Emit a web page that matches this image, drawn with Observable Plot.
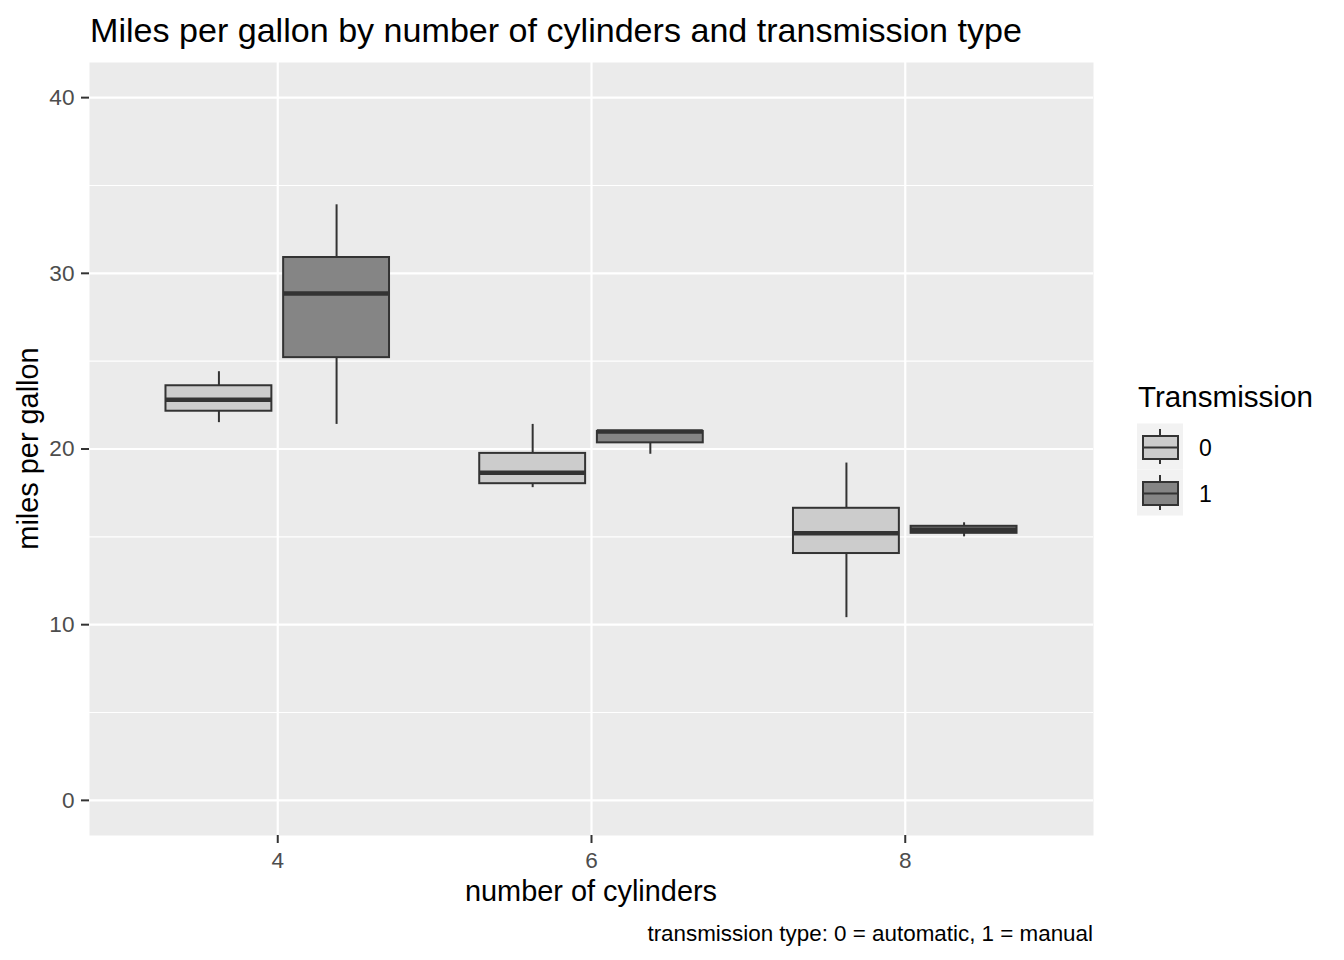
<!DOCTYPE html>
<html><head><meta charset="utf-8">
<script src="https://cdn.jsdelivr.net/npm/d3@7"></script>
<script src="https://cdn.jsdelivr.net/npm/@observablehq/plot@0.6"></script>
<style>
body{margin:0;background:#fff;font-family:"Liberation Sans",Arial,sans-serif;}
#wrap{position:relative;width:1344px;height:960px;overflow:hidden;}
#wrap svg{position:absolute;left:0;top:0;}
</style></head><body><div id="wrap"></div>
<script>
// mtcars: mpg by cylinders (x) and transmission (0 = automatic, 1 = manual)
const cylinders    = [4, 4, 6, 6, 8, 8];
const transmission = ["0", "1", "0", "1", "0", "1"];
const mpgMin    = [21.5, 21.4, 17.8,   19.7,  10.4,   15.0];
const mpgQ1     = [22.15, 25.2, 18.025, 20.35, 14.05,  15.2];
const mpgMedian = [22.8, 28.85, 18.65,  21.0,  15.2,   15.4];
const mpgQ3     = [23.6, 30.9, 19.75,  21.0,  16.625, 15.6];
const mpgMax    = [24.4, 33.9, 21.4,   21.0,  19.2,   15.8];
const yTicks = [0, 10, 20, 30, 40];
const yMinor = [5, 15, 25, 35];
const xTicks = [4, 6, 8];
const fillColors = ["#CCCCCC", "#858585"];

const dodge = 0.375, half = 0.3375;
const boxes = cylinders.map((c, i) => ({
  cyl: c, am: transmission[i],
  x: c + (transmission[i] === "0" ? -dodge : dodge),
  min: mpgMin[i], q1: mpgQ1[i], median: mpgMedian[i], q3: mpgQ3[i], max: mpgMax[i]
}));

const ink = "#333333";
const chart = Plot.plot({
  width: 1344, height: 960,
  marginLeft: 89, marginRight: 251, marginTop: 62, marginBottom: 125,
  style: {fontFamily: "'Liberation Sans', Arial, sans-serif", background: "transparent"},
  x: {domain: [2.8, 9.2]},
  y: {domain: [-2, 42]},
  color: {domain: ["0", "1"], range: fillColors},
  marks: [
    Plot.frame({fill: "#EBEBEB", stroke: null}),
    Plot.ruleY(yMinor, {stroke: "white", strokeWidth: 1.1}),
    Plot.ruleY(yTicks, {stroke: "white", strokeWidth: 2.2}),
    Plot.ruleX(xTicks, {stroke: "white", strokeWidth: 2.2}),
    Plot.axisY(yTicks, {tickSize: 8, tickPadding: 7, fontSize: 22.6, stroke: ink, strokeWidth: 2, fill: "#4D4D4D", label: null, tickFormat: d => String(d)}),
    Plot.axisX(xTicks, {tickSize: 8, tickPadding: 8.5, fontSize: 22.6, stroke: ink, strokeWidth: 2, fill: "#4D4D4D", label: null, tickFormat: d => String(d)}),
    Plot.ruleX(boxes, {x: "x", y1: "min", y2: "max", stroke: ink, strokeWidth: 2}),
    Plot.rect(boxes, {x1: d => d.x - half, x2: d => d.x + half, y1: "q1", y2: "q3", fill: "am", stroke: ink, strokeWidth: 2}),
    Plot.ruleY(boxes, {y: "median", x1: d => d.x - half, x2: d => d.x + half, stroke: ink, strokeWidth: 4.5})
  ]
});
const wrap = document.getElementById("wrap");
wrap.appendChild(chart);

// Overlay: titles, caption, legend
const ov = d3.select(wrap).append("svg").attr("width", 1344).attr("height", 960)
  .style("font-family", "'Liberation Sans', Arial, sans-serif");
ov.append("text").attr("x", 90).attr("y", 41.5).attr("font-size", 34.1).attr("fill", "#000")
  .text("Miles per gallon by number of cylinders and transmission type");
ov.append("text").attr("x", 591).attr("y", 901).attr("font-size", 28.9).attr("text-anchor", "middle").attr("fill", "#000")
  .text("number of cylinders");
ov.append("text").attr("transform", "translate(38,448.5) rotate(-90)").attr("font-size", 28.9).attr("text-anchor", "middle").attr("fill", "#000")
  .text("miles per gallon");
ov.append("text").attr("x", 1093).attr("y", 940.5).attr("font-size", 22.4).attr("text-anchor", "end").attr("fill", "#000")
  .text("transmission type: 0 = automatic, 1 = manual");

// legend
const lg = ov.append("g");
lg.append("text").attr("x", 1138).attr("y", 406.5).attr("font-size", 29.6).attr("fill", "#000").text("Transmission");
const keyLabels = ["0", "1"];
keyLabels.forEach((lab, i) => {
  const y0 = 423.5 + i * 46;
  lg.append("rect").attr("x", 1137).attr("y", y0).attr("width", 46).attr("height", 46).attr("fill", "#F2F2F2");
  lg.append("line").attr("x1", 1160).attr("x2", 1160).attr("y1", y0 + 5.5).attr("y2", y0 + 40.5).attr("stroke", ink).attr("stroke-width", 2);
  lg.append("rect").attr("x", 1143).attr("y", y0 + 12.5).attr("width", 35).attr("height", 23).attr("fill", fillColors[i]).attr("stroke", ink).attr("stroke-width", 2);
  lg.append("line").attr("x1", 1143).attr("x2", 1178).attr("y1", y0 + 24).attr("y2", y0 + 24).attr("stroke", ink).attr("stroke-width", 2);
  lg.append("text").attr("x", 1199).attr("y", y0 + 24).attr("dy", "0.36em").attr("font-size", 23).attr("fill", "#000").text(lab);
});
</script></body></html>
